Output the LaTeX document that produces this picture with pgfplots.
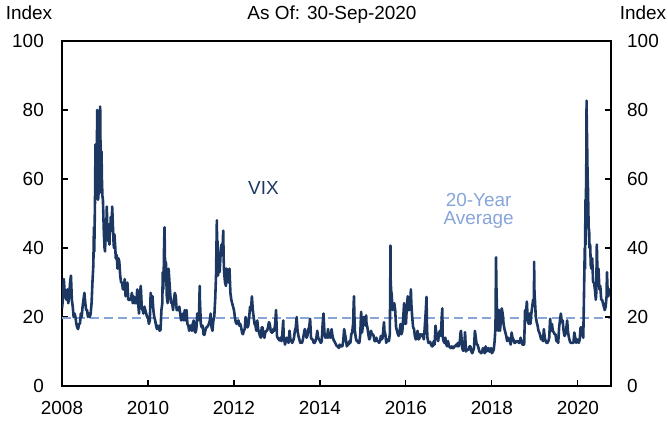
\documentclass[border=0pt]{standalone}
\usepackage{fontspec}
\setmainfont{Liberation Sans}
\usepackage{pgfplots}
\pgfplotsset{compat=1.18}
\definecolor{vixnavy}{RGB}{28,55,98}
\definecolor{avgblue}{RGB}{135,165,218}
\begin{document}
\fontsize{19}{22}\selectfont
\begin{tikzpicture}
\useasboundingbox (-62bp,-37bp) rectangle (606bp,386bp);
\begin{axis}[
  name=main, at={(0,0)}, anchor=south west,
  scale only axis, width=549bp, height=345bp,
  xmin=2008, xmax=2020.77, ymin=0, ymax=100,
  xtick={2008,2010,...,2020}, ytick={0,20,...,100},
  xtick pos=bottom, ytick pos=left,
  tick align=inside, major tick length=6bp,
  every tick/.style={black, line width=1.1bp},
  axis line style={line width=1.6bp},
  /pgf/number format/assume math mode=true,
  xticklabel style={/pgf/number format/1000 sep={}, anchor=north, inner sep=0pt, yshift=-15bp},
  yticklabel style={anchor=east, inner sep=0pt, xshift=-18bp},
]
\addplot[avgblue, line width=2bp, dash pattern=on 9bp off 5bp] coordinates {(2008,19.8) (2020.77,19.8)};
\addplot[vixnavy, line width=2.6bp, line join=round] coordinates {
(2008.000,22.5) (2008.021,25) (2008.042,31) (2008.063,27)
(2008.083,26) (2008.104,25) (2008.125,28) (2008.146,24)
(2008.167,26) (2008.188,30) (2008.208,32) (2008.229,25)
(2008.250,23) (2008.271,20) (2008.292,21) (2008.313,20)
(2008.333,18) (2008.354,17) (2008.375,16.5) (2008.396,18)
(2008.417,18) (2008.438,21) (2008.458,20) (2008.479,23)
(2008.500,25) (2008.521,27) (2008.542,24) (2008.563,22)
(2008.583,22) (2008.604,20) (2008.625,21) (2008.646,20)
(2008.667,21) (2008.688,24) (2008.708,30) (2008.729,35) (2008.743,46)
(2008.750,39) (2008.758,45) (2008.771,57) (2008.778,70) (2008.786,55) (2008.792,69) (2008.800,70) (2008.812,69) (2008.819,80) (2008.822,80) (2008.828,69) (2008.832,60)
(2008.838,54) (2008.846,55) (2008.855,57) (2008.866,66) (2008.875,67) (2008.885,74) (2008.888,81) (2008.893,73) (2008.900,64) (2008.910,56)
(2008.919,68) (2008.930,59) (2008.941,55) (2008.952,54) (2008.963,49) (2008.975,44) (2008.990,40)
(2009.000,39) (2009.010,42) (2009.021,43) (2009.031,46) (2009.042,52) (2009.052,47) (2009.063,44) (2009.075,42)
(2009.083,45) (2009.094,42) (2009.104,41) (2009.115,47) (2009.125,46) (2009.135,49) (2009.146,45) (2009.156,46)
(2009.167,52) (2009.177,49) (2009.188,45) (2009.198,42) (2009.208,40) (2009.219,44) (2009.229,42) (2009.240,40)
(2009.250,37) (2009.271,38) (2009.292,34) (2009.313,37)
(2009.333,36) (2009.354,32) (2009.375,30) (2009.396,30)
(2009.417,28) (2009.438,28) (2009.458,31) (2009.479,26)
(2009.500,27) (2009.521,30) (2009.542,25) (2009.563,25)
(2009.583,25) (2009.604,25) (2009.625,27) (2009.646,24)
(2009.667,26) (2009.688,24) (2009.708,24) (2009.729,24)
(2009.750,28) (2009.771,24) (2009.792,21) (2009.813,27)
(2009.833,29) (2009.854,23) (2009.875,22) (2009.896,21)
(2009.917,23) (2009.938,22) (2009.958,21) (2009.979,20)
(2010.000,20) (2010.021,18) (2010.042,19) (2010.063,27)
(2010.083,24) (2010.104,26) (2010.125,22) (2010.146,20)
(2010.167,19) (2010.188,17.5) (2010.208,16.5) (2010.229,17.5)
(2010.250,17) (2010.271,16) (2010.292,16.3) (2010.313,22)
(2010.333,24) (2010.344,33) (2010.354,28) (2010.365,32) (2010.375,41) (2010.385,46) (2010.396,36) (2010.406,32)
(2010.417,36) (2010.438,26) (2010.458,24) (2010.479,34)
(2010.500,30) (2010.521,26) (2010.542,24) (2010.563,24)
(2010.583,22) (2010.604,25) (2010.625,27) (2010.646,26)
(2010.667,22) (2010.688,22) (2010.708,22) (2010.729,23)
(2010.750,21) (2010.771,19) (2010.792,20) (2010.813,21)
(2010.833,19) (2010.854,22) (2010.875,19) (2010.896,22)
(2010.917,18) (2010.938,17.5) (2010.958,16) (2010.979,17.5)
(2011.000,17.5) (2011.021,16) (2011.042,18) (2011.063,19)
(2011.083,16) (2011.104,15.5) (2011.125,16.5) (2011.146,21)
(2011.167,19) (2011.188,21) (2011.203,29) (2011.208,25) (2011.229,18)
(2011.250,17) (2011.271,17.5) (2011.292,15) (2011.313,14.8)
(2011.333,16) (2011.354,17) (2011.375,17) (2011.396,17.5)
(2011.417,18) (2011.438,19) (2011.458,21) (2011.479,17)
(2011.500,16) (2011.521,19) (2011.542,20) (2011.563,25)
(2011.583,32) (2011.602,48) (2011.610,36) (2011.620,42) (2011.630,32) (2011.646,37)
(2011.667,33) (2011.688,38) (2011.708,41) (2011.729,38)
(2011.750,45) (2011.760,37) (2011.771,33) (2011.792,30) (2011.813,29) (2011.823,34)
(2011.833,34) (2011.854,32) (2011.875,30) (2011.896,34)
(2011.917,27) (2011.938,25) (2011.958,24) (2011.979,23)
(2012.000,22) (2012.021,20) (2012.042,18.5) (2012.063,18)
(2012.083,18.5) (2012.104,19) (2012.125,17.5) (2012.146,18)
(2012.167,17) (2012.188,15.5) (2012.208,15) (2012.229,16)
(2012.250,16.5) (2012.271,20) (2012.292,18) (2012.313,17)
(2012.333,17.5) (2012.354,20) (2012.375,23) (2012.396,22)
(2012.417,26) (2012.438,22) (2012.458,20) (2012.479,18)
(2012.500,17.5) (2012.521,16) (2012.542,19) (2012.563,16.5)
(2012.583,15.5) (2012.604,14.5) (2012.625,14) (2012.646,17)
(2012.667,17) (2012.688,14.5) (2012.708,14) (2012.729,15.5)
(2012.750,16) (2012.771,16) (2012.792,17) (2012.813,18.5)
(2012.833,18) (2012.854,16) (2012.875,15.5) (2012.896,15.5)
(2012.917,16.5) (2012.938,16) (2012.958,18) (2012.979,22)
(2013.000,14.5) (2013.021,13.8) (2013.042,13.5) (2013.063,13.2)
(2013.083,14) (2013.104,13) (2013.125,15) (2013.146,19) (2013.156,14.5)
(2013.167,13.5) (2013.188,12) (2013.208,13.5) (2013.229,14)
(2013.250,13) (2013.271,12.5) (2013.292,16) (2013.313,13.5)
(2013.333,13) (2013.354,12.5) (2013.375,13) (2013.396,14)
(2013.417,16) (2013.438,17) (2013.458,20) (2013.479,16)
(2013.500,14.5) (2013.521,13.5) (2013.542,12.5) (2013.563,12.8)
(2013.583,12.5) (2013.604,13.5) (2013.625,15) (2013.646,16.5)
(2013.667,15.5) (2013.688,14) (2013.708,14.5) (2013.729,16.5)
(2013.750,17) (2013.771,19.5) (2013.792,14) (2013.813,13.5)
(2013.833,13.5) (2013.854,12.5) (2013.875,12.5) (2013.896,13)
(2013.917,14) (2013.938,16) (2013.958,14) (2013.979,13.5)
(2014.000,13) (2014.021,12.5) (2014.042,13) (2014.063,18)
(2014.083,21) (2014.104,15.5) (2014.125,14) (2014.146,14.5)
(2014.167,14) (2014.188,16.5) (2014.208,14) (2014.229,15)
(2014.250,14) (2014.271,16.5) (2014.292,14.5) (2014.313,13.5)
(2014.333,13) (2014.354,12.5) (2014.375,12) (2014.396,11.5)
(2014.417,11.5) (2014.438,11) (2014.458,12) (2014.479,11.5)
(2014.500,11.5) (2014.521,11.5) (2014.542,13) (2014.563,16.5)
(2014.583,15) (2014.604,13.5) (2014.625,11.5) (2014.646,12)
(2014.667,12) (2014.688,13) (2014.708,12.5) (2014.729,15)
(2014.750,15.5) (2014.771,18) (2014.785,24) (2014.792,26) (2014.800,21) (2014.813,16)
(2014.833,14) (2014.854,13) (2014.875,13) (2014.896,12.5)
(2014.917,12.5) (2014.938,15) (2014.958,21.5) (2014.968,19) (2014.979,15.5)
(2015.000,17.5) (2015.021,20) (2015.042,19.5) (2015.063,17.5) (2015.075,20.5)
(2015.083,18) (2015.104,17) (2015.125,15) (2015.146,13.5)
(2015.167,14) (2015.188,16) (2015.208,15) (2015.229,15)
(2015.250,14.5) (2015.271,13) (2015.292,13) (2015.313,14)
(2015.333,13) (2015.354,13) (2015.375,12.5) (2015.396,13)
(2015.417,14.5) (2015.438,13.5) (2015.458,14) (2015.479,17) (2015.490,18.5)
(2015.500,16) (2015.521,15) (2015.542,12.5) (2015.563,13.5)
(2015.583,13) (2015.604,13) (2015.625,15) (2015.635,28) (2015.640,40.7) (2015.646,30) (2015.660,27)
(2015.667,27) (2015.688,22) (2015.708,23) (2015.729,24)
(2015.750,22) (2015.771,17) (2015.792,16) (2015.813,15)
(2015.833,14.5) (2015.854,16) (2015.875,18) (2015.896,15)
(2015.917,16) (2015.938,20) (2015.958,24) (2015.979,18)
(2016.000,18) (2016.021,23) (2016.042,26) (2016.063,22)
(2016.083,22) (2016.104,25) (2016.115,28) (2016.125,24) (2016.146,20)
(2016.167,17) (2016.188,16.5) (2016.208,14.5) (2016.229,13.5)
(2016.250,14) (2016.271,16) (2016.292,13.5) (2016.313,13.8)
(2016.333,15) (2016.354,14.5) (2016.375,15) (2016.396,14.5)
(2016.417,13.5) (2016.438,17) (2016.458,21) (2016.479,25.8) (2016.490,17)
(2016.500,14) (2016.521,12.5) (2016.542,12.5) (2016.563,12.8)
(2016.583,12) (2016.604,11.5) (2016.625,11.5) (2016.646,13)
(2016.667,12) (2016.688,17.5) (2016.708,15) (2016.729,14)
(2016.750,13) (2016.771,15.5) (2016.792,16) (2016.813,14.5)
(2016.833,20) (2016.846,22.5) (2016.854,14.5) (2016.875,13) (2016.896,12.5)
(2016.917,14) (2016.938,12) (2016.958,11.5) (2016.979,13)
(2017.000,11.5) (2017.021,11.3) (2017.042,11) (2017.063,11.5)
(2017.083,11) (2017.104,11) (2017.125,11.5) (2017.146,11.5)
(2017.167,12) (2017.188,11.5) (2017.208,12.5) (2017.229,11.5)
(2017.250,12.5) (2017.271,15.5) (2017.281,16) (2017.292,14) (2017.313,10.8)
(2017.333,10.2) (2017.354,11) (2017.375,15.6) (2017.396,10)
(2017.417,10.5) (2017.438,10.5) (2017.458,10.5) (2017.479,11.5)
(2017.500,11.5) (2017.521,10) (2017.542,9.5) (2017.563,10.2)
(2017.583,11) (2017.604,16) (2017.625,14) (2017.646,12)
(2017.667,12) (2017.688,11) (2017.708,10) (2017.729,9.8)
(2017.750,9.5) (2017.771,9.9) (2017.792,11) (2017.813,10)
(2017.833,9.5) (2017.854,11.5) (2017.875,10) (2017.896,10.5)
(2017.917,11) (2017.938,10) (2017.958,10) (2017.979,11)
(2018.000,9.5) (2018.021,10) (2018.042,10.5) (2018.063,13)
(2018.083,17) (2018.096,37.3) (2018.104,29) (2018.125,19) (2018.146,16)
(2018.167,22) (2018.188,16) (2018.208,19) (2018.229,22.5)
(2018.250,21) (2018.271,18) (2018.292,16.5) (2018.313,15.5)
(2018.333,14.5) (2018.354,13) (2018.375,14) (2018.396,13.5)
(2018.417,13) (2018.438,12) (2018.458,15.5) (2018.479,14)
(2018.500,13.5) (2018.521,12.5) (2018.542,12.5) (2018.563,13)
(2018.583,13) (2018.604,13) (2018.625,12.5) (2018.646,12.5)
(2018.667,14) (2018.688,13) (2018.708,12) (2018.729,12)
(2018.750,12) (2018.771,22) (2018.792,21) (2018.813,24.5)
(2018.833,19) (2018.854,18) (2018.875,21) (2018.896,18)
(2018.917,21) (2018.938,23) (2018.958,25) (2018.979,25) (2018.981,36) (2018.990,27)
(2019.000,25) (2019.021,20) (2019.042,18.5) (2019.063,17.5)
(2019.083,16) (2019.104,15.5) (2019.125,14.5) (2019.146,13.5)
(2019.167,14.5) (2019.188,13) (2019.208,16.5) (2019.229,14)
(2019.250,13) (2019.271,12.5) (2019.292,12.5) (2019.313,13)
(2019.333,14) (2019.354,19.5) (2019.375,16) (2019.396,18)
(2019.417,16) (2019.438,15.5) (2019.458,15) (2019.479,15)
(2019.500,13) (2019.521,13) (2019.542,12.5) (2019.563,17)
(2019.583,19) (2019.604,21) (2019.625,18.5) (2019.646,19)
(2019.667,16) (2019.688,14.5) (2019.708,15) (2019.729,16.5)
(2019.750,19) (2019.771,15.5) (2019.792,14) (2019.813,13)
(2019.833,12.5) (2019.854,12.5) (2019.875,12.5) (2019.896,12.5)
(2019.917,15.5) (2019.938,14) (2019.958,12.5) (2019.979,13.5)
(2020.000,13) (2020.021,12.5) (2020.042,13.5) (2020.063,17)
(2020.083,17) (2020.104,15) (2020.125,14) (2020.140,25) (2020.150,33) (2020.160,40)
(2020.167,34) (2020.172,47) (2020.177,54) (2020.183,41) (2020.188,57) (2020.193,58) (2020.202,82.7) (2020.207,75) (2020.213,72) (2020.219,66) (2020.225,61) (2020.235,57) (2020.240,53)
(2020.250,46) (2020.262,45) (2020.271,40) (2020.285,41) (2020.300,35) (2020.313,34)
(2020.333,37) (2020.354,30) (2020.375,30) (2020.396,28)
(2020.417,25) (2020.427,27) (2020.440,41) (2020.455,33) (2020.470,32) (2020.479,34)
(2020.500,28) (2020.521,29) (2020.542,25) (2020.563,25)
(2020.583,24) (2020.604,23) (2020.625,22) (2020.646,23)
(2020.667,26) (2020.676,33) (2020.690,28) (2020.708,26) (2020.729,28) (2020.748,26.5)
};
\node[vixnavy, anchor=base, inner sep=0pt] at (axis cs:2012.686,55.4) {VIX};
\node[avgblue, anchor=base, inner sep=0pt] at (axis cs:2017.69,51.9) {20-Year};
\node[avgblue, anchor=base, inner sep=0pt] at (axis cs:2017.69,46.7) {Average};
\end{axis}
\begin{axis}[
  at={(0,0)}, anchor=south west,
  scale only axis, width=549bp, height=345bp,
  xmin=2008, xmax=2020.77, ymin=0, ymax=100,
  axis x line=none, axis y line*=right,
  ytick={0,20,...,100},
  tick align=inside, major tick length=6bp,
  every tick/.style={black, line width=1.1bp},
  axis line style={line width=1.6bp},
  /pgf/number format/assume math mode=true,
  yticklabel style={anchor=west, inner sep=0pt, xshift=16bp},
]
\end{axis}
\node[anchor=base, inner sep=0pt] at (-33bp,366bp) {Index};
\node[anchor=base, inner sep=0pt] at (581bp,366bp) {Index};
\node[anchor=base, inner sep=0pt] at (270bp,366bp) {As Of: 30-Sep-2020};
\end{tikzpicture}
\end{document}
